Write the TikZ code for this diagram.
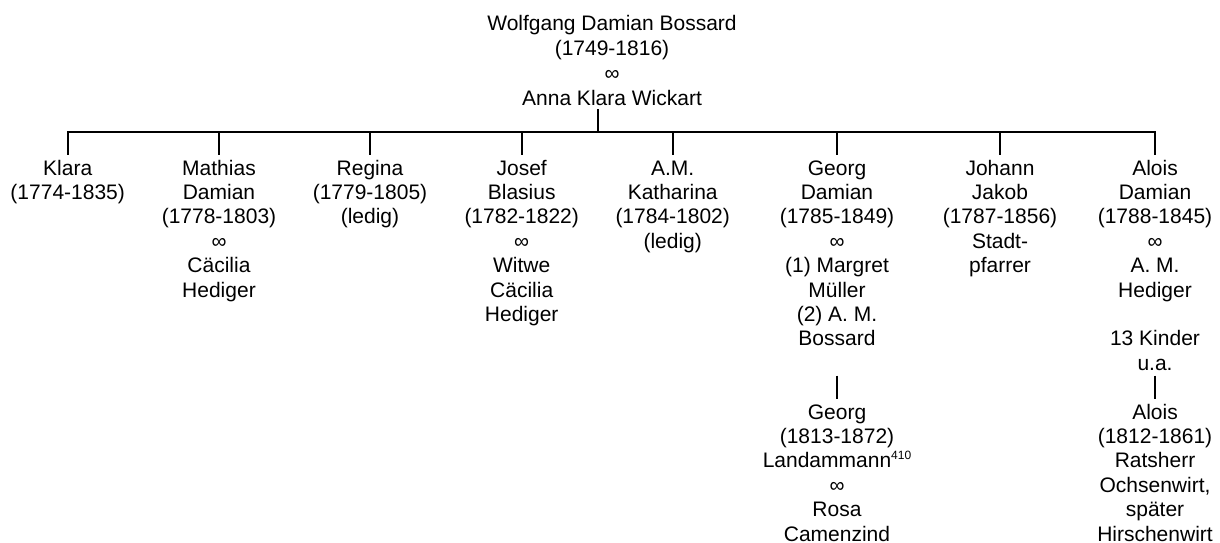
\documentclass[tikz,border=0pt]{standalone}
\usepackage{fontspec}
\setmainfont{Liberation Sans}
\newcommand{\persontab}[1]{\setlength{\tabcolsep}{0pt}\renewcommand{\arraystretch}{1}\begin{tabular}[t]{@{}c@{}}#1\end{tabular}}
\newcommand{\supnum}[1]{\raisebox{8pt}{\fontsize{12}{12}\selectfont #1}}
\begin{document}
\begin{tikzpicture}[x=1pt,y=1pt,
  person/.style={anchor=base, inner xsep=0pt, inner ysep=3pt, font=\fontsize{21}{24.4}\selectfont},
  toptitle/.style={anchor=base, inner xsep=0pt, inner ysep=3pt, font=\fontsize{21}{24.8}\selectfont},
  link/.style={line width=1.8pt, line join=miter}]
\useasboundingbox (0,0) rectangle (1220,-542);
\node[toptitle] (par) at (612,-30.8) {\persontab{Wolfgang Damian Bossard\\(1749-1816)\\∞\\Anna Klara Wickart}};
\coordinate (bar) at (0,-131.7);
\node[person] (c1) at (67.7,-175) {\persontab{Klara\\(1774-1835)}};
\node[person] (c2) at (219,-175) {\persontab{Mathias\\Damian\\(1778-1803)\\∞\\Cäcilia\\Hediger}};
\node[person] (c3) at (370,-175) {\persontab{Regina\\(1779-1805)\\(ledig)}};
\node[person] (c4) at (521.7,-175) {\persontab{Josef\\Blasius\\(1782-1822)\\∞\\Witwe\\Cäcilia\\Hediger}};
\node[person] (c5) at (672.7,-175) {\persontab{A.M.\\Katharina\\(1784-1802)\\(ledig)}};
\node[person] (c6) at (837,-175) {\persontab{Georg\\Damian\\(1785-1849)\\∞\\(1) Margret\\Müller\\(2) A. M.\\Bossard\\\mbox{}}};
\node[person] (c7) at (1000,-175) {\persontab{Johann\\Jakob\\(1787-1856)\\Stadt-\\pfarrer}};
\node[person] (c8) at (1155,-175) {\persontab{Alois\\Damian\\(1788-1845)\\∞\\A. M.\\Hediger\\\mbox{}\\13 Kinder\\u.a.}};
\node[person] (g2) at (837,-419) {\persontab{Georg\\(1813-1872)\\Landammann\supnum{410}\\∞\\Rosa\\Camenzind}};
\node[person] (a2) at (1155,-419) {\persontab{Alois\\(1812-1861)\\Ratsherr\\Ochsenwirt,\\später\\Hirschenwirt}};
% connectors
\draw[link, shorten <=-6.6pt] ([xshift=-14pt]par.south) -- ([xshift=-14pt]par.south |- bar);
\draw[link] (c1.north) -- (c1.north |- bar) -- (c8.north |- bar) -- (c8.north);
\foreach \c in {c2,c3,c4,c5,c6,c7}{\draw[link] (\c.north |- bar) -- (\c.north);}
\draw[link, shorten <=-5pt] (c6.south) -- (g2.north);
\draw[link, shorten <=-5pt] (c8.south) -- (a2.north);
\end{tikzpicture}
\end{document}
